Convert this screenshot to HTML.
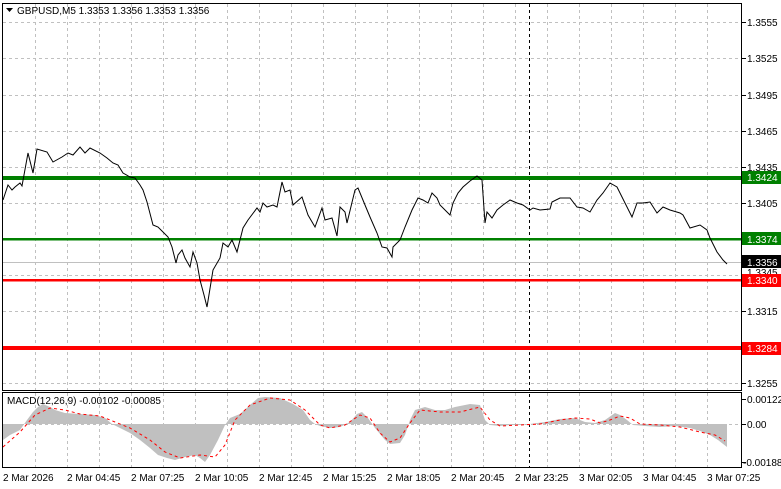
<!DOCTYPE html>
<html><head><style>
body{margin:0;background:#fff;}
svg{display:block;font-family:"Liberation Sans",sans-serif;font-size:10px;}
</style></head><body>
<svg width="781" height="489" viewBox="0 0 781 489" xmlns="http://www.w3.org/2000/svg">
<rect width="781" height="489" fill="#fff"/>
<g stroke="#c0c0c0" stroke-dasharray="3,3" stroke-width="1">
<path d="M35.5 4V390M67.5 4V390M99.5 4V390M131.5 4V390M163.5 4V390M195.5 4V390M227.5 4V390M259.5 4V390M291.5 4V390M323.5 4V390M355.5 4V390M387.5 4V390M419.5 4V390M451.5 4V390M483.5 4V390M515.5 4V390M547.5 4V390M579.5 4V390M611.5 4V390M643.5 4V390M675.5 4V390M707.5 4V390"/>
<path d="M35.5 393V467M67.5 393V467M99.5 393V467M131.5 393V467M163.5 393V467M195.5 393V467M227.5 393V467M259.5 393V467M291.5 393V467M323.5 393V467M355.5 393V467M387.5 393V467M419.5 393V467M451.5 393V467M483.5 393V467M515.5 393V467M547.5 393V467M579.5 393V467M611.5 393V467M643.5 393V467M675.5 393V467M707.5 393V467"/>
<path d="M3 22.5H741M3 58.5H741M3 95.5H741M3 131.5H741M3 167.5H741M3 203.5H741M3 239.5H741M3 275.5H741M3 311.5H741M3 348.5H741M3 383.5H741"/>
<path d="M3 424.5H741"/>
</g>
<line x1="529.5" y1="4" x2="529.5" y2="467" stroke="#000" stroke-dasharray="3,3"/>
<rect x="3" y="176" width="738" height="4" fill="#008000"/>
<rect x="3" y="238" width="738" height="2.5" fill="#008000"/>
<line x1="3" y1="262.5" x2="741" y2="262.5" stroke="#c0c0c0"/>
<rect x="3" y="279" width="738" height="2.5" fill="#ff0000"/>
<rect x="3" y="346" width="738" height="4" fill="#ff0000"/>
<polyline fill="none" stroke="#000" stroke-width="1" points="3,200 8,185 12,190 15,187 20,183 22,186 28,153 33,173 37,149 47,152 53,162 62,157 68,153 73,155 80,147 85,153 90,148 100,153 107,158 113,163 118,165 123,173 130,177 135,178 140,185 143,190 147,202 153,225 158,227 163,232 168,237 172,247 176,263 178,255 182,250 185,258 190,267 193,252 197,263 200,280 204,295 207,307 213,270 220,258 223,243 228,247 232,240 237,252 243,228 248,220 257,208 260,212 263,203 267,207 273,205 277,207 282,182 285,192 290,190 293,205 302,197 308,215 315,227 322,208 325,220 332,218 337,236 340,207 345,212 347,223 355,190 358,188 365,205 370,217 377,233 382,247 387,248 392,257 393,247 400,240 405,227 412,210 418,198 423,200 428,203 432,193 437,198 440,205 450,215 453,203 458,193 463,187 470,181 477,176 482,180 485,223 487,212 492,218 497,210 503,205 510,200 517,203 523,205 530,210 533,208 540,210 550,209 552,202 560,198 570,198 577,207 583,208 590,212 597,200 603,193 610,183 617,187 627,207 632,217 637,203 643,203 650,202 657,213 663,207 670,210 680,213 683,215 690,228 700,225 707,230 710,238 717,252 723,260 727,264"/>
<polygon fill="#c0c0c0" points="3,424 3,440 10,435 20,430 27,420 33,412 38,407 43,404 50,407 55,410 65,413 80,414 95,415 105,418 112,424 120,428 130,433 140,440 150,448 158,455 167,458 175,460 185,457 195,455 200,458 205,462 210,455 218,440 225,425 230,418 240,414 250,405 258,398 265,397 280,398 293,404 303,410 310,420 315,424 320,426 330,428 340,427 350,422 357,414 362,412 368,418 375,428 385,440 390,444 400,443 405,435 410,420 415,410 425,407 435,410 445,410 455,407 470,404 480,405 485,420 490,425 500,426 510,425 520,425 530,424 545,422 560,419 575,418 585,422 595,423 605,420 615,413 620,415 627,420 633,425 645,426 660,427 675,426 690,428 700,431 710,435 718,440 727,447 727,424"/>
<polyline fill="none" stroke="#ff0000" stroke-width="1" stroke-dasharray="3,3" points="3,447 20,432 35,415 50,408 65,410 80,414 100,416 115,422 130,428 150,440 165,452 180,458 200,455 215,457 225,445 235,420 250,405 270,398 290,400 305,410 320,425 330,428 345,425 360,415 370,418 380,433 390,442 400,438 410,423 420,410 440,412 460,412 480,407 490,420 500,426 520,425 540,424 560,420 575,418 590,419 600,423 610,420 620,416 630,418 640,424 660,425 680,427 700,432 715,435 725,441"/>
<rect x="2.5" y="3.5" width="739" height="387" fill="none" stroke="#000"/>
<rect x="2.5" y="392.5" width="739" height="75" fill="none" stroke="#000"/>
<g fill="#000">
<path d="M742 22.5h4M742 58.5h4M742 95.5h4M742 131.5h4M742 167.5h4M742 203.5h4M742 311.5h4M742 383.5h4M742 399.5h4M742 424.5h4M742 462.5h4" stroke="#000"/>
<text x="747" y="26">1.3555</text><text x="747" y="62">1.3525</text><text x="747" y="99">1.3495</text><text x="747" y="135">1.3465</text><text x="747" y="171">1.3435</text><text x="747" y="207">1.3405</text><text x="747" y="276">1.3345</text><text x="747" y="315">1.3315</text><text x="747" y="387">1.3255</text>
<text x="747" y="403">0.00122</text><text x="747" y="428">0.00</text><text x="743" y="466">-0.00188</text>
</g>
<rect x="742" y="171" width="39" height="13" fill="#008000"/><text x="747" y="181" fill="#fff">1.3424</text>
<rect x="742" y="232" width="39" height="13" fill="#008000"/><text x="747" y="243" fill="#fff">1.3374</text>
<rect x="742" y="255" width="39" height="13" fill="#000"/><text x="747" y="266" fill="#fff">1.3356</text>
<rect x="742" y="274" width="39" height="13" fill="#ff0000"/><text x="747" y="284" fill="#fff">1.3340</text>
<rect x="742" y="342" width="39" height="13" fill="#ff0000"/><text x="747" y="352" fill="#fff">1.3284</text>
<path d="M6 8h7l-3.5 4z" fill="#000"/>
<text x="17" y="14" fill="#000">GBPUSD,M5  1.3353 1.3356 1.3353 1.3356</text>
<text x="7" y="404" fill="#000">MACD(12,26,9) -0.00102 -0.00085</text>
<g fill="#000">
<text x="3" y="481">2 Mar 2026</text><text x="67" y="481">2 Mar 04:45</text><text x="131" y="481">2 Mar 07:25</text><text x="195" y="481">2 Mar 10:05</text><text x="259" y="481">2 Mar 12:45</text><text x="323" y="481">2 Mar 15:25</text><text x="387" y="481">2 Mar 18:05</text><text x="451" y="481">2 Mar 20:45</text><text x="515" y="481">2 Mar 23:25</text><text x="579" y="481">3 Mar 02:05</text><text x="643" y="481">3 Mar 04:45</text><text x="707" y="481">3 Mar 07:25</text>
</g>
</svg>
</body></html>
